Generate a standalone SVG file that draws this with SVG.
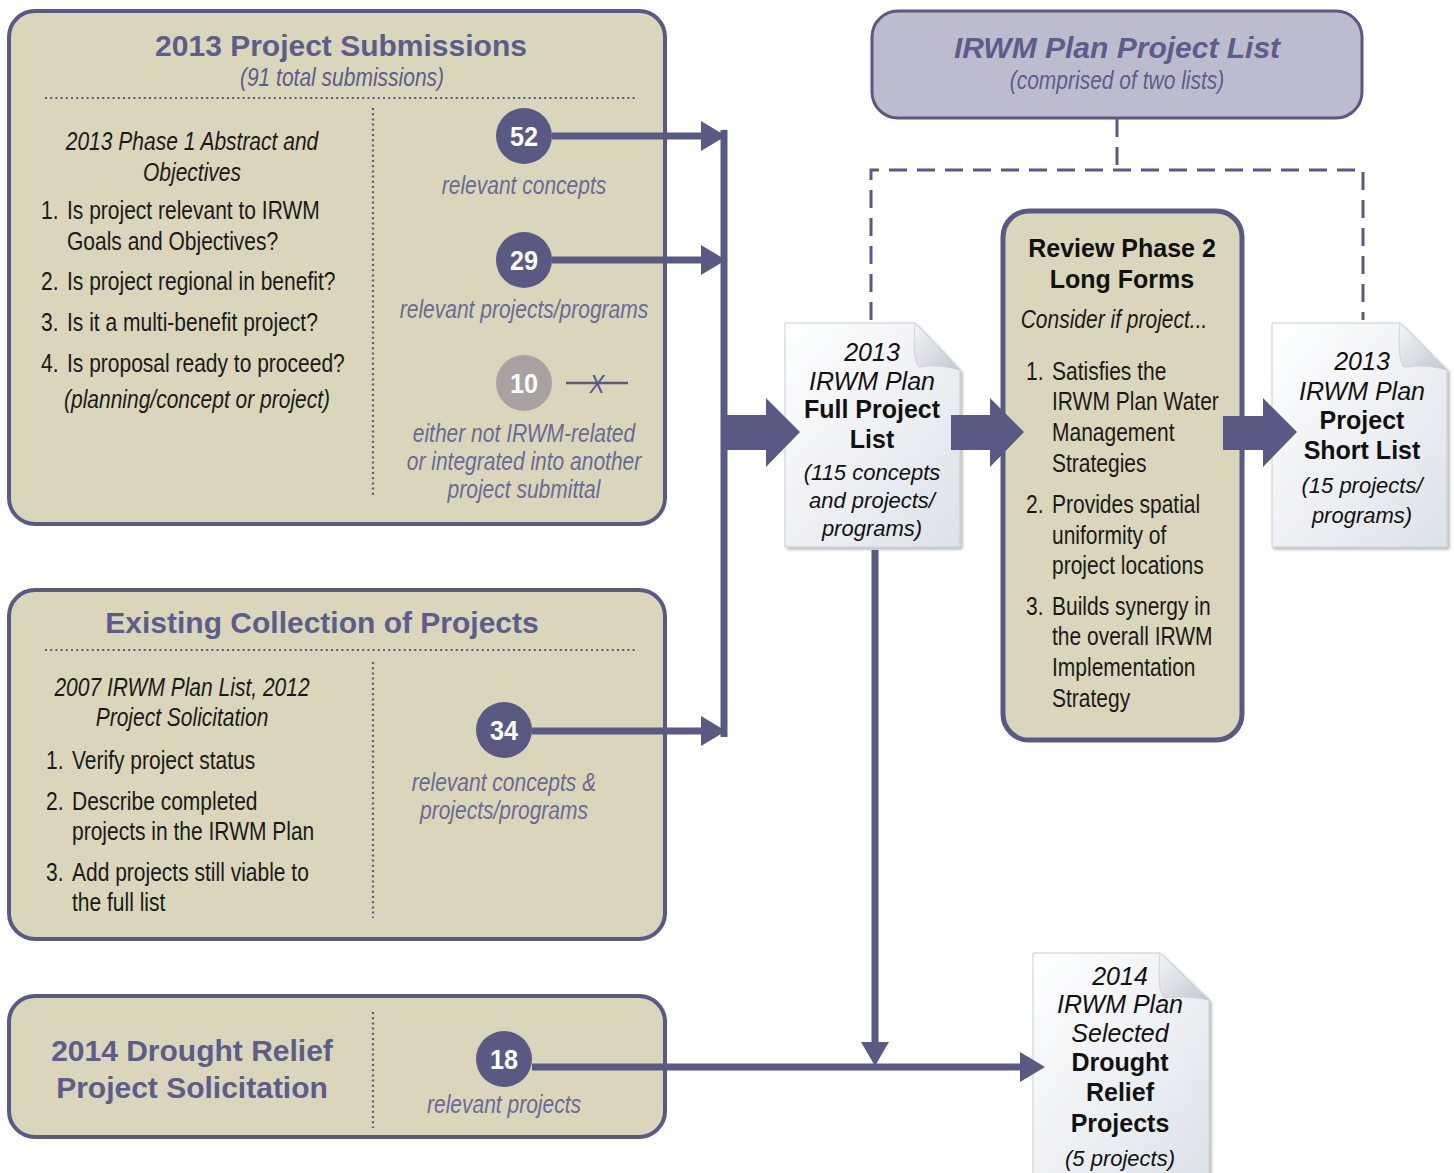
<svg xmlns="http://www.w3.org/2000/svg" width="1454" height="1173" viewBox="0 0 1454 1173">
<style>
.box{fill:#d9d6bb;stroke:#5a5983;stroke-width:4}
.top{fill:#bdbccf;stroke:#5a5983;stroke-width:3}
.dot{fill:none;stroke:#5a5983;stroke-width:2.2;stroke-dasharray:2 3.2}
.title{font-family:"Liberation Sans",Arial,sans-serif;font-weight:bold;font-size:30px;fill:#5d5c8a;text-anchor:middle}
.n{font-family:"Liberation Sans",Arial,sans-serif;font-size:25px;fill:#1a1a1a}
.ni{font-family:"Liberation Sans",Arial,sans-serif;font-size:25px;fill:#1a1a1a;font-style:italic}
.lbl{font-family:"Liberation Sans",Arial,sans-serif;font-size:25px;fill:#6b6a93;font-style:italic;text-anchor:middle}
.num{font-family:"Liberation Sans",Arial,sans-serif;font-weight:bold;font-size:28px;fill:#fff;text-anchor:middle}
.d{font-family:"Liberation Sans",Arial,sans-serif;font-size:25px;fill:#111;text-anchor:middle}
.di{font-style:italic}
.db{font-weight:bold}
.ds{font-size:22px;font-style:italic}
.c{text-anchor:middle}
.conn{stroke:#5a5983;fill:none}
.head{fill:#5a5983}
.doc{fill:url(#pg);stroke:#c9cdd3;stroke-width:1;filter:url(#sh)}
.fold{fill:url(#fg);stroke:#c9cdd3;stroke-width:0.8}
</style>
<defs>
<linearGradient id="pg" x1="0" y1="0" x2="1" y2="1">
<stop offset="0" stop-color="#ffffff"/>
<stop offset="1" stop-color="#dde2e8"/>
</linearGradient>
<linearGradient id="fg" x1="0" y1="0" x2="1" y2="1">
<stop offset="0" stop-color="#f4f5f7"/>
<stop offset="1" stop-color="#c3c8cf"/>
</linearGradient>
<filter id="sh" x="-10%" y="-10%" width="130%" height="130%">
<feDropShadow dx="2" dy="2" stdDeviation="1.5" flood-color="#000" flood-opacity="0.3"/>
</filter>
</defs>
<rect width="1454" height="1173" fill="#ffffff"/>

<g id="submissions2013">
<rect class="box" x="9" y="11" width="656" height="513" rx="26"/>
<text class="title" x="341" y="56">2013 Project Submissions</text>
<text class="lbl" transform="translate(342,86) scale(0.84,1)" style="fill:#5d5c8a">(91 total submissions)</text>
<line class="dot" x1="45" y1="98" x2="636" y2="98"/>
<line class="dot" x1="373" y1="108" x2="373" y2="498"/>
<text class="ni c" transform="translate(192,150) scale(0.84,1)">2013 Phase 1 Abstract and</text>
<text class="ni c" transform="translate(192,181) scale(0.84,1)">Objectives</text>
<text class="n" transform="translate(41,219) scale(0.84,1)">1.</text><text class="n" transform="translate(67,219) scale(0.84,1)">Is project relevant to IRWM</text>
<text class="n" transform="translate(67,250) scale(0.84,1)">Goals and Objectives?</text>
<text class="n" transform="translate(41,290) scale(0.84,1)">2.</text><text class="n" transform="translate(67,290) scale(0.84,1)">Is project regional in benefit?</text>
<text class="n" transform="translate(41,331) scale(0.84,1)">3.</text><text class="n" transform="translate(67,331) scale(0.84,1)">Is it a multi-benefit project?</text>
<text class="n" transform="translate(41,372) scale(0.84,1)">4.</text><text class="n" transform="translate(67,372) scale(0.84,1)">Is proposal ready to proceed?</text>
<text class="ni" transform="translate(64,408) scale(0.84,1)">(planning/concept or project)</text>
<circle cx="524" cy="136" r="28" fill="#5a5983"/>
<text class="num" transform="translate(524,146) scale(0.9,1)">52</text>
<text class="lbl" transform="translate(524,194) scale(0.84,1)">relevant concepts</text>
<circle cx="524" cy="260" r="28" fill="#5a5983"/>
<text class="num" transform="translate(524,270) scale(0.9,1)">29</text>
<text class="lbl" transform="translate(524,318) scale(0.84,1)">relevant projects/programs</text>
<circle cx="524" cy="383" r="28" fill="#a9a2a2"/>
<text class="num" transform="translate(524,393) scale(0.9,1)">10</text>
<path class="conn" stroke-width="2.5" d="M566,383 H628"/>
<text class="lbl" transform="translate(597,393) scale(0.9,1.05)" style="fill:#5a5983">X</text>
<text class="lbl" transform="translate(524,442) scale(0.84,1)">either not IRWM-related</text>
<text class="lbl" transform="translate(524,470) scale(0.84,1)">or integrated into another</text>
<text class="lbl" transform="translate(524,498) scale(0.84,1)">project submittal</text>
</g>

<g id="existing">
<rect class="box" x="9" y="590" width="656" height="349" rx="26"/>
<text class="title" x="322" y="633">Existing Collection of Projects</text>
<line class="dot" x1="45" y1="650" x2="636" y2="650"/>
<line class="dot" x1="373" y1="662" x2="373" y2="918"/>
<text class="ni c" transform="translate(182,696) scale(0.84,1)">2007 IRWM Plan List, 2012</text>
<text class="ni c" transform="translate(182,726) scale(0.84,1)">Project Solicitation</text>
<text class="n" transform="translate(46,769) scale(0.84,1)">1.</text><text class="n" transform="translate(72,769) scale(0.84,1)">Verify project status</text>
<text class="n" transform="translate(46,810) scale(0.84,1)">2.</text><text class="n" transform="translate(72,810) scale(0.84,1)">Describe completed</text>
<text class="n" transform="translate(72,840) scale(0.84,1)">projects in the IRWM Plan</text>
<text class="n" transform="translate(46,881) scale(0.84,1)">3.</text><text class="n" transform="translate(72,881) scale(0.84,1)">Add projects still viable to</text>
<text class="n" transform="translate(72,911) scale(0.84,1)">the full list</text>
<circle cx="504" cy="730" r="28" fill="#5a5983"/>
<text class="num" transform="translate(504,740) scale(0.9,1)">34</text>
<text class="lbl" transform="translate(504,791) scale(0.84,1)">relevant concepts &amp;</text>
<text class="lbl" transform="translate(504,819) scale(0.84,1)">projects/programs</text>
</g>

<g id="drought2014">
<rect class="box" x="9" y="996" width="656" height="141" rx="26"/>
<text class="title" x="192" y="1061">2014 Drought Relief</text>
<text class="title" x="192" y="1098">Project Solicitation</text>
<line class="dot" x1="373" y1="1012" x2="373" y2="1128"/>
<circle cx="504" cy="1059" r="28" fill="#5a5983"/>
<text class="num" transform="translate(504,1069) scale(0.9,1)">18</text>
<text class="lbl" transform="translate(504,1113) scale(0.84,1)">relevant projects</text>
</g>

<g id="planlist">
<rect class="top" x="872" y="11" width="490" height="107" rx="26"/>
<text class="title" x="1117" y="58" font-style="italic">IRWM Plan Project List</text>
<text class="lbl" transform="translate(1117,89) scale(0.84,1)" style="fill:#5d5c8a">(comprised of two lists)</text>
</g>

<g id="review">
<rect x="1003" y="211" width="239" height="529" rx="26" fill="#d9d6bb"/>
<text class="d db" x="1122" y="257">Review Phase 2</text>
<text class="d db" x="1122" y="288">Long Forms</text>
<text class="ni c" transform="translate(1114,328) scale(0.84,1)">Consider if project...</text>
<text class="n" transform="translate(1026,380) scale(0.84,1)">1.</text><text class="n" transform="translate(1052,380) scale(0.84,1)">Satisfies the</text>
<text class="n" transform="translate(1052,410) scale(0.84,1)">IRWM Plan Water</text>
<text class="n" transform="translate(1052,441) scale(0.84,1)">Management</text>
<text class="n" transform="translate(1052,472) scale(0.84,1)">Strategies</text>
<text class="n" transform="translate(1026,513) scale(0.84,1)">2.</text><text class="n" transform="translate(1052,513) scale(0.84,1)">Provides spatial</text>
<text class="n" transform="translate(1052,544) scale(0.84,1)">uniformity of</text>
<text class="n" transform="translate(1052,574) scale(0.84,1)">project locations</text>
<text class="n" transform="translate(1026,615) scale(0.84,1)">3.</text><text class="n" transform="translate(1052,615) scale(0.84,1)">Builds synergy in</text>
<text class="n" transform="translate(1052,645) scale(0.84,1)">the overall IRWM</text>
<text class="n" transform="translate(1052,676) scale(0.84,1)">Implementation</text>
<text class="n" transform="translate(1052,707) scale(0.84,1)">Strategy</text>
</g>

<g id="fulllist">
<path class="doc" d="M785,323 H915 L960,370 V547 H785 Z"/>
<path class="fold" d="M915,323 Q912,360 919,367 Q940,364 960,370 Z"/>
<text class="d di" x="872" y="361">2013</text>
<text class="d di" x="872" y="390">IRWM Plan</text>
<text class="d db" x="872" y="418">Full Project</text>
<text class="d db" x="872" y="448">List</text>
<text class="d ds" x="872" y="480">(115 concepts</text>
<text class="d ds" x="872" y="508">and projects/</text>
<text class="d ds" x="872" y="536">programs)</text>
</g>

<g id="shortlist">
<path class="doc" d="M1272,323 H1400 L1447,370 V547 H1272 Z"/>
<path class="fold" d="M1400,323 Q1397,360 1404,367 Q1427,364 1447,370 Z"/>
<text class="d di" x="1362" y="370">2013</text>
<text class="d di" x="1362" y="400">IRWM Plan</text>
<text class="d db" x="1362" y="429">Project</text>
<text class="d db" x="1362" y="459">Short List</text>
<text class="d ds" x="1362" y="493">(15 projects/</text>
<text class="d ds" x="1362" y="523">programs)</text>
</g>

<g id="droughtlist">
<path class="doc" d="M1033,953 H1160 L1209,1000 V1185 H1033 Z"/>
<path class="fold" d="M1160,953 Q1157,992 1164,998 Q1188,995 1209,1000 Z"/>
<text class="d di" x="1120" y="985">2014</text>
<text class="d di" x="1120" y="1013">IRWM Plan</text>
<text class="d di" x="1120" y="1042">Selected</text>
<text class="d db" x="1120" y="1071">Drought</text>
<text class="d db" x="1120" y="1101">Relief</text>
<text class="d db" x="1120" y="1132">Projects</text>
<text class="d ds" x="1120" y="1166">(5 projects)</text>
</g>

<g id="connectors">
<path class="conn" stroke-width="3" stroke-dasharray="18 10" d="M1117,119 V170 M871,320 V170 H1363 V320"/>
<path class="conn" stroke-width="7" d="M724,130 V737"/>
<path class="conn" stroke-width="7" d="M552,136 H704 M552,260 H704 M532,731 H704"/>
<polygon class="head" points="701,121 726,136 701,151"/>
<polygon class="head" points="701,245 726,260 701,275"/>
<polygon class="head" points="701,716 726,731 701,746"/>
<polygon class="head" points="727,415 766,415 766,398 800,432 766,467 766,450 727,450"/>
<polygon class="head" points="951,415 990,415 990,398 1024,432 990,467 990,450 951,450"/>
<polygon class="head" points="1223,416 1263,416 1263,398 1297,432 1263,467 1263,450 1223,450"/>
<path class="conn" stroke-width="7" d="M875,550 V1045 M532,1067 H1023"/>
<polygon class="head" points="861,1042 889,1042 875,1066"/>
<polygon class="head" points="1020,1052 1045,1067 1020,1082"/>
</g>

<g id="review-border">
<rect x="1003" y="211" width="239" height="529" rx="26" fill="none" stroke="#5a5983" stroke-width="5"/>
</g>
</svg>
